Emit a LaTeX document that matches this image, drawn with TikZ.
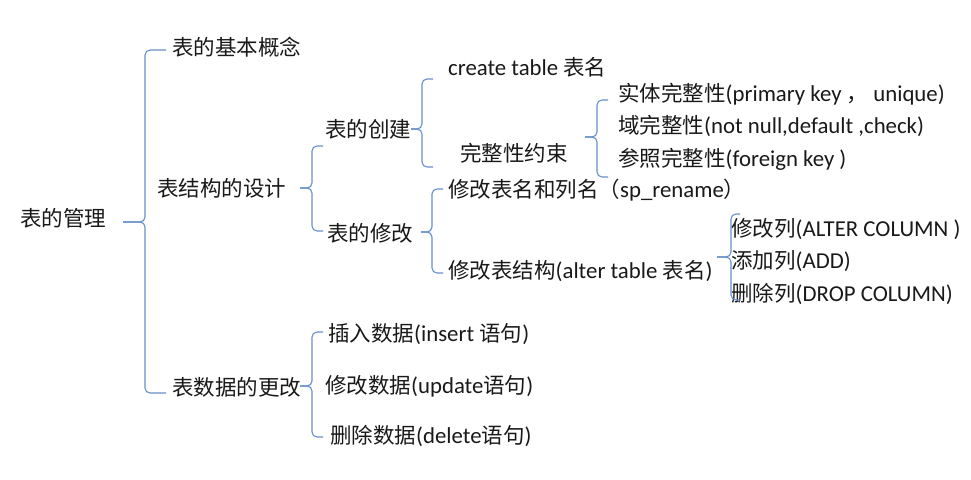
\documentclass[tikz,border=0pt]{standalone}
\usepackage{fontspec}
\setmainfont{Carlito}[Scale=1.06]
\newfontfamily\cjk{Noto Sans CJK SC}
\usetikzlibrary{calc}
\newcommand\zh[1]{{\cjk #1}}
\definecolor{conncol}{RGB}{104,144,204}
\definecolor{txtcol}{RGB}{25,25,25}
\tikzset{
  lbl/.style={anchor=west, inner sep=0pt, text height=19pt, text depth=2.6pt,
    font=\fontsize{21.5}{26}\selectfont, text=txtcol},
  conn/.style={draw=conncol, line width=1.1pt, rounded corners=5pt}
}
% tipx, tipy, vx, top, bottom, hookx
\newcommand\brc[6]{%
  \draw[conn] (#1pt,-#2pt) -- (#3pt,-#2pt) -- (#3pt,-#4pt) -- (#6pt,-#4pt);
  \draw[conn] (#1pt,-#2pt) -- (#3pt,-#2pt) -- (#3pt,-#5pt) -- (#6pt,-#5pt);
}
\begin{document}
\begin{tikzpicture}[x=1pt,y=-1pt]
\useasboundingbox[fill=white] (0,0) rectangle (971,479);
\node[lbl] (root) at (20,218) {\zh{表的管理}};
\node[lbl] (basic) at (172,47) {\zh{表的基本概念}};
\node[lbl] (design) at (157,188) {\zh{表结构的设计}};
\node[lbl] (data) at (172,387) {\zh{表数据的更改}};
\node[lbl] (create) at (325,129) {\zh{表的创建}};
\node[lbl] (modify) at (327,233) {\zh{表的修改}};
\node[lbl] (ct) at (448,67) {create table \zh{表名}};
\node[lbl] (integ) at (460,153) {\zh{完整性约束}};
\node[lbl] (i1) at (618,93) {\zh{实体完整性}(primary key \zh{，} unique)};
\node[lbl] (i2) at (618,125) {\zh{域完整性}(not null,default ,check)};
\node[lbl] (i3) at (618,158) {\zh{参照完整性}(foreign key )};
\node[lbl] (rename) at (448,189) {\zh{修改表名和列名（}sp\_rename\zh{）}};
\node[lbl] (alter) at (448,270) {\zh{修改表结构}(alter table \zh{表名})};
\node[lbl] (c1) at (731,228) {\zh{修改列}(ALTER COLUMN )};
\node[lbl] (c2) at (731,260) {\zh{添加列}(ADD)};
\node[lbl] (c3) at (731,293) {\zh{删除列}(DROP COLUMN)};
\node[lbl] (d1) at (328,333) {\zh{插入数据}(insert \zh{语句})};
\node[lbl] (d2) at (325,385) {\zh{修改数据}(update\zh{语句})};
\node[lbl] (d3) at (330,435) {\zh{删除数据}(delete\zh{语句})};
% braces
\brc{123}{222}{145}{50}{393}{166}
\brc{300}{188}{312}{146}{231}{323}
\brc{411}{129}{422}{79}{167}{433}
\brc{585}{137}{597}{100}{177}{608}
\brc{421}{232}{432}{189}{273}{443}
\brc{717}{257}{731}{214}{300}{740}
\brc{300}{386}{312}{332}{437}{323}
\end{tikzpicture}
\end{document}
